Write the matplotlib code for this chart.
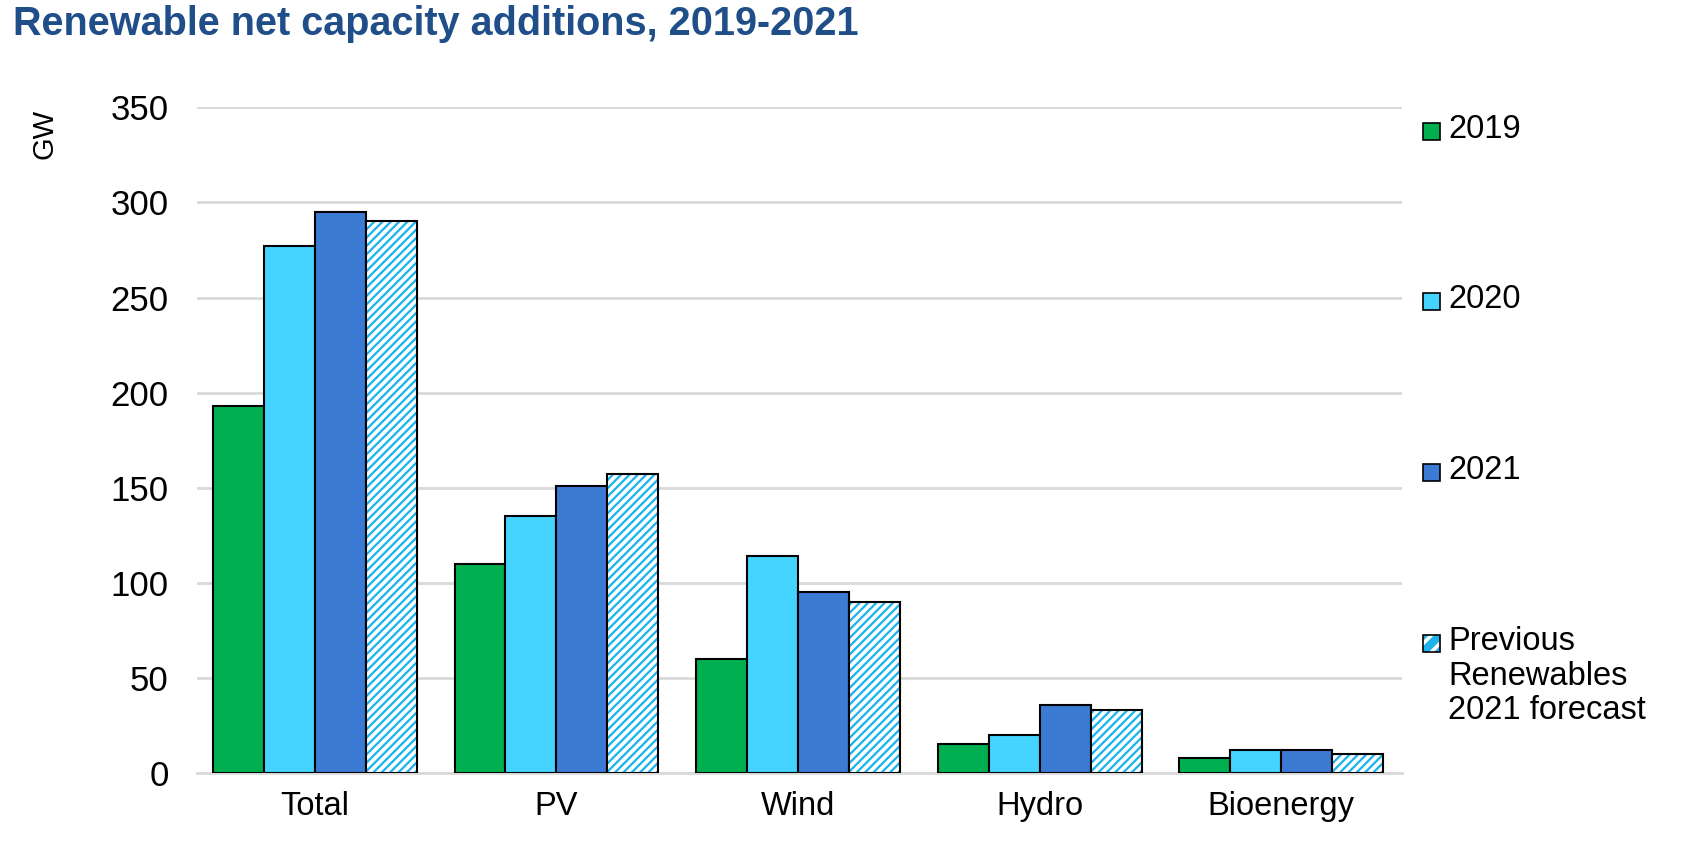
import matplotlib.pyplot as plt
import numpy as np
from matplotlib.patches import Rectangle

plt.rcParams['font.family'] = ['Liberation Sans', 'DejaVu Sans']
plt.rcParams['hatch.linewidth'] = 2.6

categories = ['Total', 'PV', 'Wind', 'Hydro', 'Bioenergy']
v2019 = [193, 110, 60, 15, 8]
v2020 = [277, 135, 114, 20, 12]
v2021 = [295, 151, 95, 36, 12]
forecast = [290, 157, 90, 33, 10]

labels = ['2019', '2020', '2021', 'Previous\nRenewables\n2021 forecast']
colors = ['#00b050', '#45d4ff', '#3c7bd4', '#1cb2ec']

fig = plt.figure(figsize=(16.84, 8.51), dpi=100)
ax = fig.add_axes([0.1167, 0.0917, 0.7158, 0.7821])

x = np.arange(len(categories))
w = 0.211
series = [v2019, v2020, v2021, forecast]
for i, vals in enumerate(series):
    pos = x + (i - 1.5) * w
    if i < 3:
        ax.bar(pos, vals, w, color=colors[i], edgecolor='black', linewidth=1.5, zorder=3)
    else:
        # hatched bars: white stripes over cyan, then black outline
        ax.bar(pos, vals, w, color=colors[i], edgecolor='white', hatch='////', linewidth=0, zorder=3)
        ax.bar(pos, vals, w, fill=False, edgecolor='black', linewidth=1.5, zorder=4)

ax.set_ylim(0, 350)
ax.set_xlim(-0.49, 4.5)
ax.set_yticks(range(0, 351, 50))
ax.set_xticks(x)
ax.set_xticklabels(categories)
ax.tick_params(axis='y', length=0, pad=20, labelsize=25)
ax.tick_params(axis='x', length=0, pad=13, labelsize=23.5)
ax.grid(axis='y', color='#d9d9d9', linewidth=2, zorder=0)
for s in ['left', 'right', 'top']:
    ax.spines[s].set_visible(False)
ax.spines['bottom'].set_color('#d9d9d9')
ax.spines['bottom'].set_linewidth(2)

fig.text(45 / 1684, 1 - 134 / 851, 'GW', rotation=90, fontsize=21,
         ha='center', va='center')

fig.text(13 / 1684, 1 - 24 / 851, 'Renewable net capacity additions, 2019-2021', fontsize=28.5,
         fontweight='bold', color='#1f4e89', ha='left', va='center')

# legend on the right, entries spaced evenly
ys = [131, 301, 472, 643]
for lab, col, yy, i in zip(labels, colors, ys, range(4)):
    yf = 1 - yy / 851
    hx = 1423 / 1684
    hw = 17 / 1684
    hh = 17 / 851
    if i < 3:
        fig.patches.append(Rectangle((hx, yf - hh / 2), hw, hh, transform=fig.transFigure,
                                     facecolor=col, edgecolor='black', linewidth=1.2))
    else:
        fig.patches.append(Rectangle((hx, yf - hh / 2), hw, hh, transform=fig.transFigure,
                                     facecolor=col, edgecolor='white', hatch='//', linewidth=0))
        fig.patches.append(Rectangle((hx, yf - hh / 2), hw, hh, transform=fig.transFigure,
                                     fill=False, edgecolor='black', linewidth=1.2))
    fig.text(1448 / 1684, yf + 17 / 851, lab, fontsize=23.5, ha='left', va='top',
             linespacing=1.15)

plt.savefig('out.png', dpi=100)
